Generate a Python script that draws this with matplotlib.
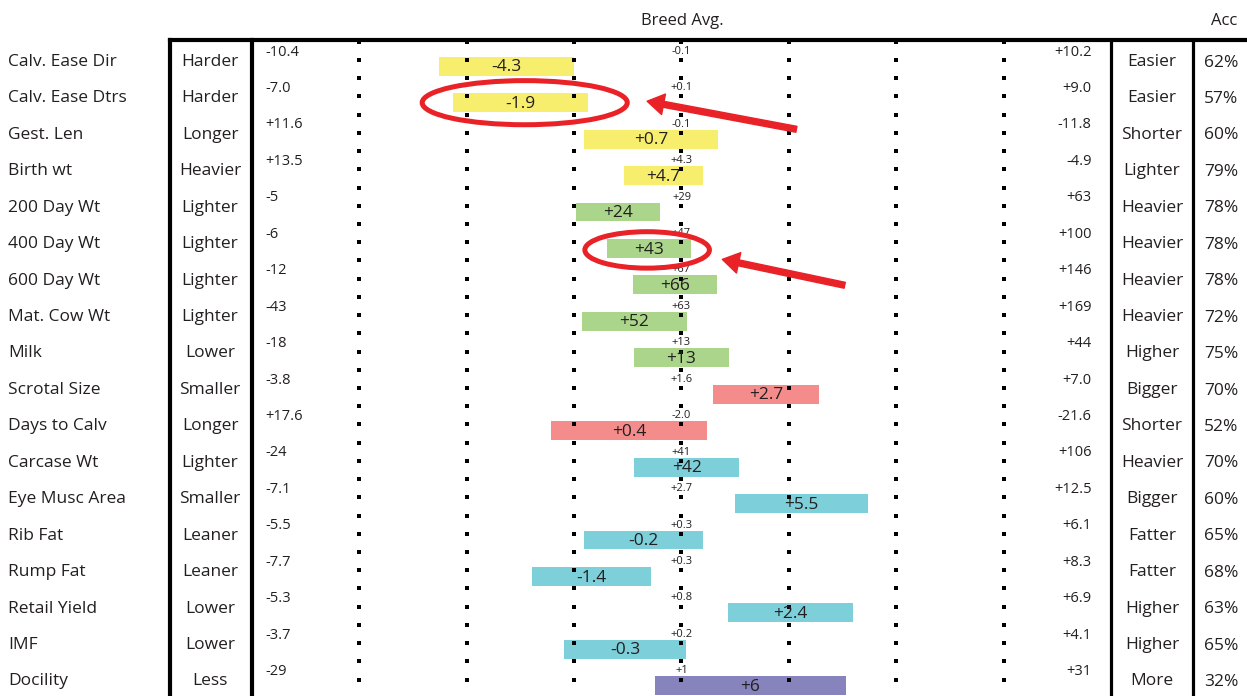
import numpy as np
import matplotlib
matplotlib.use("Agg")
import matplotlib.pyplot as plt
from matplotlib.patches import Ellipse
from matplotlib.lines import Line2D
from matplotlib.transforms import blended_transform_factory

plt.rcParams['font.family'] = ['Open Sans', 'DejaVu Sans']

# --- data ---
traits = ["Calv. Ease Dir", "Calv. Ease Dtrs", "Gest. Len", "Birth wt", "200 Day Wt",
          "400 Day Wt", "600 Day Wt", "Mat. Cow Wt", "Milk", "Scrotal Size",
          "Days to Calv", "Carcase Wt", "Eye Musc Area", "Rib Fat", "Rump Fat",
          "Retail Yield", "IMF", "Docility"]
low_words = ["Harder", "Harder", "Longer", "Heavier", "Lighter", "Lighter", "Lighter",
             "Lighter", "Lower", "Smaller", "Longer", "Lighter", "Smaller", "Leaner",
             "Leaner", "Lower", "Lower", "Less"]
high_words = ["Easier", "Easier", "Shorter", "Lighter", "Heavier", "Heavier", "Heavier",
              "Heavier", "Higher", "Bigger", "Shorter", "Heavier", "Bigger", "Fatter",
              "Fatter", "Higher", "Higher", "More"]
accuracy = [62, 57, 60, 79, 78, 78, 78, 72, 75, 70, 52, 70, 60, 65, 68, 63, 65, 32]
decimals = [1, 1, 1, 1, 0, 0, 0, 0, 0, 1, 1, 0, 1, 1, 1, 1, 1, 0]
ebv = [-4.3, -1.9, 0.7, 4.7, 24, 43, 66, 52, 13, 2.7, 0.4, 42, 5.5, -0.2, -1.4, 2.4, -0.3, 6]
range_left = [-10.4, -7.0, 11.6, 13.5, -5, -6, -12, -43, -18, -3.8, 17.6, -24, -7.1,
              -5.5, -7.7, -5.3, -3.7, -29]
breed_avg = [-0.1, 0.1, -0.1, 4.3, 29, 47, 67, 63, 13, 1.6, -2.0, 41, 2.7, 0.3, 0.3,
             0.8, 0.2, 1]
range_right = [10.2, 9.0, -11.8, -4.9, 63, 100, 146, 169, 44, 7.0, -21.6, 106, 12.5,
               6.1, 8.3, 6.9, 4.1, 31]
# bar extent on the chart's standard scale (breed avg = 0, gridlines every 1)
bar_lo = [-2.26, -2.13, -0.91, -0.54, -0.98, -0.69, -0.45, -0.93, -0.44, 0.29, -1.22,
          -0.44, 0.50, -0.91, -1.39, 0.43, -1.09, -0.25]
bar_hi = [-1.00, -0.87, 0.34, 0.20, -0.20, 0.09, 0.33, 0.05, 0.44, 1.28, 0.24,
          0.54, 1.74, 0.20, -0.28, 1.60, 0.04, 1.53]
groups = ["calving"] * 4 + ["growth"] * 5 + ["fertility"] * 2 + ["carcase"] * 6 + ["temperament"]

group_colors = {"calving": "#f7ee6e", "growth": "#abd58b", "fertility": "#f48c8c",
                "carcase": "#7dcfda", "temperament": "#8683bd"}
red = "#e92228"
txt = "#231f20"

W, H = 1247, 696
fig = plt.figure(figsize=(W / 100, H / 100), dpi=100)
ax = fig.add_axes([252 / W, 0, (1111 - 252) / W, (H - 40) / H])
n = len(traits)
ax.set_xlim(-4, 4)
ax.set_ylim(n, 0)
ax.set_xticks([])
ax.set_yticks([])
for s in ["top", "bottom"]:
    ax.spines[s].set_visible(False)
ax.spines["left"].set_linewidth(3)
ax.spines["right"].set_linewidth(2.3)

rows = np.arange(n)

# bars
ax.barh(rows + 0.72, np.array(bar_hi) - np.array(bar_lo), left=bar_lo, height=0.52,
        color=[group_colors[g] for g in groups], zorder=2)

# dotted guide lines
gx, gy = np.meshgrid(np.arange(-3, 4), np.arange(0, n + 0.01, 0.5))
ax.scatter(gx.ravel(), gy.ravel() + 0.05, marker="s", s=5, color="black", lw=0, zorder=4,
           clip_on=False)


def fmt(v, d):
    return f"{v:+.{d}f}"


for i in range(n):
    d = decimals[i]
    ax.text(-3.88, i + 0.33, fmt(range_left[i], d), ha="left", va="center", fontsize=10.5,
            color=txt, zorder=5)
    ax.text(0, i + 0.31, fmt(breed_avg[i], d), ha="center", va="center", fontsize=8,
            color=txt, zorder=5)
    ax.text(3.82, i + 0.33, fmt(range_right[i], d), ha="right", va="center", fontsize=10.5,
            color=txt, zorder=5)
    ax.text((bar_lo[i] + bar_hi[i]) / 2, i + 0.75, fmt(ebv[i], d), ha="center",
            va="center", fontsize=12.5, color=txt, zorder=5)

# side columns
tr = blended_transform_factory(fig.transFigure, ax.transData)
for i in range(n):
    ax.text(8 / W, i + 0.6, traits[i], transform=tr, ha="left", va="center",
            fontsize=12.5, color=txt, clip_on=False)
    ax.text(210 / W, i + 0.6, low_words[i], transform=tr, ha="center", va="center",
            fontsize=12.5, color=txt, clip_on=False)
    ax.text(1152 / W, i + 0.6, high_words[i], transform=tr, ha="center", va="center",
            fontsize=12.5, color=txt, clip_on=False)
    ax.text(1221 / W, i + 0.62, f"{accuracy[i]}%", transform=tr, ha="center",
            va="center", fontsize=12.5, color=txt, clip_on=False)

# frame lines
top = (H - 40) / H
fig.add_artist(Line2D([170 / W, 1], [top, top], lw=3, color="black"))
fig.add_artist(Line2D([170 / W, 170 / W], [0, top], lw=3, color="black"))
fig.add_artist(Line2D([1193 / W, 1193 / W], [0, top], lw=2.3, color="black"))

# headers
fig.text(682 / W, 1 - 21 / H, "Breed Avg.", ha="center", va="center", fontsize=12, color=txt)
fig.text(1224 / W, 1 - 21 / H, "Acc", ha="center", va="center", fontsize=12, color=txt)

# red highlights
ax.add_patch(Ellipse((-1.46, 1.72), 1.91, 1.21, fill=False, ec=red, lw=3.6, zorder=6,
                     clip_on=False))
ax.add_patch(Ellipse((-0.32, 5.76), 1.16, 1.0, fill=False, ec=red, lw=3.6, zorder=6,
                     clip_on=False))
arrow = dict(width=4.3, headwidth=15, headlength=12, color=red, shrink=0)
ax.annotate("", xy=(-0.32, 1.68), xytext=(1.07, 2.45), arrowprops=arrow, zorder=6)
ax.annotate("", xy=(0.38, 6.02), xytext=(1.52, 6.73), arrowprops=arrow, zorder=6)

fig.savefig("out.png", dpi=100)
